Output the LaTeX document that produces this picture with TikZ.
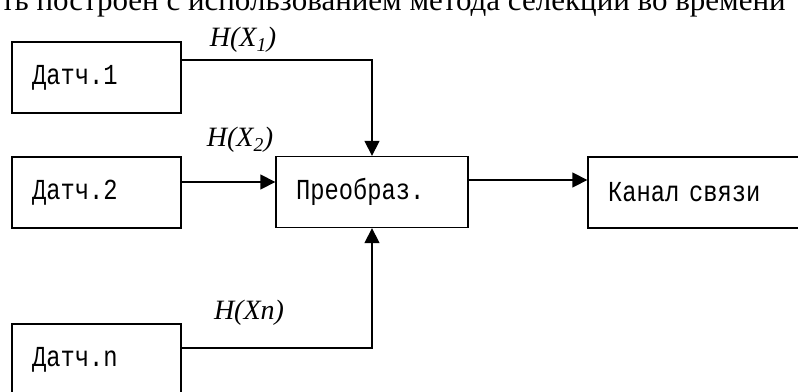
\documentclass[tikz,border=0pt]{standalone}
\usepackage{fontspec}
\setmainfont{Liberation Serif}
\newfontfamily\boxfont[FakeStretch=0.82]{Liberation Mono}
\usetikzlibrary{arrows.meta}

\begin{document}
\begin{tikzpicture}[x=1pt,y=-1pt,
	blok/.style={draw,line width=1.3pt,minimum height=71pt,inner xsep=20pt,align=left,font=\boxfont\fontsize{29}{32}\selectfont},
	lbl/.style={font=\itshape\fontsize{28}{32}\selectfont,inner sep=0},
	pijl/.style={line width=1.3pt,-{Triangle[length=15pt,width=15pt]}},
]
\useasboundingbox (0,0) rectangle (798,391);
\clip (0,0) rectangle (798,391);

\node[font=\fontsize{31}{36}\selectfont,anchor=base east,inner sep=0] (kop) at (786,10) {ть построен с использованием метода селекции во времени};

\node[blok,text width=129pt] (d1) at (96.5,77.5) {Датч.1};
\node[blok,text width=129pt] (d2) at (96.5,192.5) {Датч.2};
\node[blok,text width=129pt] (dn) at (96.5,359.5) {Датч.n};
\node[blok,text width=152pt] (pr) at (372,192) {Преобраз.};
\node[blok,text width=190pt] (kan) at (703,192.5) {Канал связи};

\node[lbl] (h1) at (243,40) {H(X\textsubscript{1})};
\node[lbl] (h2) at (240,140) {H(X\textsubscript{2})};
\node[lbl] (hn) at (249,313) {H(Xn)};

\draw[pijl] ([yshift=17.5pt]d1.east) -| (pr.north);
\draw[pijl] ([yshift=10.5pt]d2.east) -- ([yshift=10.5pt]d2.east -| pr.west);
\draw[pijl] ([yshift=11.5pt]dn.east) -| (pr.south);
\draw[pijl] ([yshift=12pt]pr.east) -- ([yshift=12pt]pr.east -| kan.west);

\end{tikzpicture}
\end{document}
